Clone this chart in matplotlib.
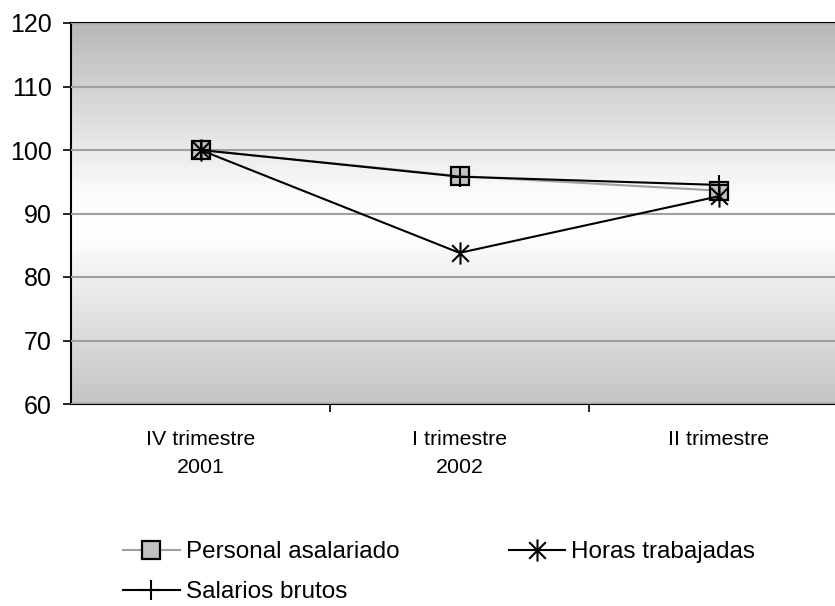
import numpy as np
import matplotlib
matplotlib.use("Agg")
import matplotlib.pyplot as plt
from matplotlib.colors import LinearSegmentedColormap
from matplotlib.path import Path

plt.rcParams['font.family'] = ['Liberation Sans', 'DejaVu Sans']

categories = ["IV trimestre\n2001", "I trimestre\n2002", "II trimestre"]
personal = [100, 95.9, 93.6]
horas = [100, 83.8, 92.7]
salarios = [100, 95.8, 94.5]
yticks = [60, 70, 80, 90, 100, 110, 120]

fig = plt.figure(figsize=(8.35, 6.06), dpi=100)
ax = fig.add_axes([71/835, 1-404/606, (848-71)/835, (404-23)/606])

# gradient background
cmap = LinearSegmentedColormap.from_list("g", [(0, "#c4c4c4"), (0.45, "#ffffff"), (0.55, "#fcfcfc"), (1, "#b8b8b8")])
grad = np.linspace(0, 1, 256).reshape(-1, 1)
ax.imshow(grad, extent=[-0.5, 2.5, 60, 120], origin='lower', aspect='auto', cmap=cmap, zorder=0)

ax.set_xlim(-0.5, 2.5)
ax.set_ylim(60, 120)
ax.set_yticks(yticks)
ax.grid(axis='y', color='#a0a0a0', linewidth=1.5, zorder=1)
ax.set_axisbelow(False)

# asterisk marker: vertical + X
ast = Path([(0, -1), (0, 1), (-0.75, -0.75), (0.75, 0.75), (-0.75, 0.75), (0.75, -0.75)],
           [Path.MOVETO, Path.LINETO, Path.MOVETO, Path.LINETO, Path.MOVETO, Path.LINETO])

x = np.arange(len(categories))
l1, = ax.plot(x, personal, color='#a0a0a0', lw=1.5, marker='s', markersize=13, markerfacecolor='#c0c0c0',
              markeredgecolor='black', markeredgewidth=1.6, label='Personal asalariado', zorder=3)
l2, = ax.plot(x, horas, color='black', lw=1.5, marker=ast, markersize=16, markeredgewidth=1.5,
              markerfacecolor='none', markeredgecolor='black', label='Horas trabajadas', zorder=4)
l3, = ax.plot(x, salarios, color='black', lw=1.5, marker='+', markersize=15, markeredgewidth=1.5,
              label='Salarios brutos', zorder=5)

ax.set_xticks(x)
ax.set_xticklabels(categories, fontsize=15.4, linespacing=1.55)
ax.set_xticks([0.5, 1.5], minor=True)
ax.tick_params(axis='x', which='major', length=0, pad=19)
ax.tick_params(axis='x', which='minor', length=5.5, width=1.2, direction='out')
ax.tick_params(axis='y', length=6, width=1.2, direction='out', labelsize=18, pad=8)

for s in ['left', 'bottom', 'top']:
    ax.spines[s].set_linewidth(1.5)
    ax.spines[s].set_color('black')
ax.spines['right'].set_visible(False)

leg = fig.legend([l1, l3, l2], ['Personal asalariado', 'Salarios brutos', 'Horas trabajadas'],
                 loc='upper left', bbox_to_anchor=(123/835, 1-541/606), ncol=2, frameon=False,
                 fontsize=17.5, handlelength=2.33, handletextpad=0.25, columnspacing=4.5,
                 labelspacing=0.75, borderpad=0, borderaxespad=0)

fig.savefig("out.png", dpi=100)
